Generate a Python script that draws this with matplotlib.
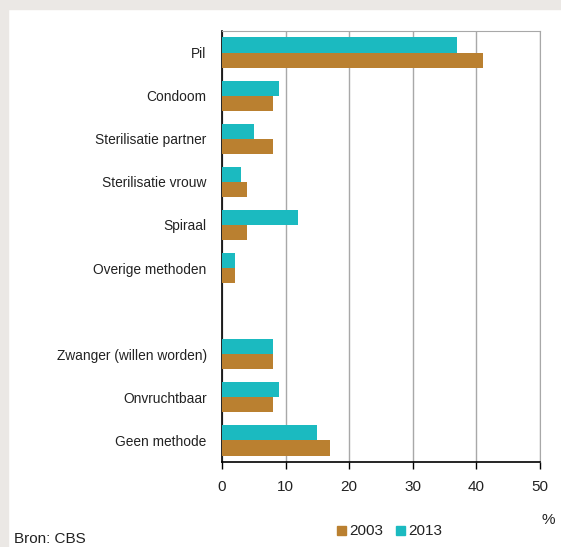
import numpy as np
import matplotlib.pyplot as plt
from matplotlib.patches import Rectangle

plt.rcParams['font.family'] = ['Liberation Sans', 'DejaVu Sans']

# data
categories = ['Pil', 'Condoom', 'Sterilisatie partner', 'Sterilisatie vrouw',
              'Spiraal', 'Overige methoden', '',
              'Zwanger (willen worden)', 'Onvruchtbaar', 'Geen methode']
values_2003 = [41, 8, 8, 4, 4, 2, np.nan, 8, 8, 17]
values_2013 = [37, 9, 5, 3, 12, 2, np.nan, 8, 9, 15]
x_ticks = [0, 10, 20, 30, 40, 50]

col_2003 = '#ba8030'
col_2013 = '#1bbac0'
txt_col = '#222222'

W, H = 561, 547
fig = plt.figure(figsize=(W / 100, H / 100), dpi=100)
fig.patch.set_facecolor('white')

# light gray frame at top and left
fig.patches.append(Rectangle((0, 1 - 9 / H), 1, 9 / H, transform=fig.transFigure,
                             color='#ebe8e5', zorder=0))
fig.patches.append(Rectangle((0, 0), 8 / W, 1, transform=fig.transFigure,
                             color='#ebe8e5', zorder=0))

ax = fig.add_axes([222 / W, 1 - 462 / H, (540 - 222) / W, (462 - 31) / H])

y = np.arange(len(categories))
h = 0.35
ax.barh(y - h / 2, values_2013, height=h, color=col_2013, zorder=3)
ax.barh(y + h / 2, values_2003, height=h, color=col_2003, zorder=3)

ax.set_ylim(len(categories) - 0.5, -0.5)
ax.set_xlim(0, 50)
ax.set_yticks(y)
ax.set_yticklabels(categories, fontsize=9.9, color=txt_col)
ax.tick_params(axis='y', length=0, pad=11)
ax.set_xticks(x_ticks)
ax.set_xticklabels([str(t) for t in x_ticks], fontsize=11, color=txt_col)
ax.tick_params(axis='x', direction='out', length=5, width=1, color='black', pad=8)

ax.grid(axis='x', color='#a8a8a8', lw=1, zorder=1)
for s in ['top', 'right']:
    ax.spines[s].set_color('#a8a8a8')
for s in ['left', 'bottom']:
    ax.spines[s].set_color('black')
    ax.spines[s].set_linewidth(1.2)

# legend and notes
fig.text(548 / W, 1 - 520 / H, '%', fontsize=11, color=txt_col, ha='center', va='center')
fig.text(14 / W, 1 - 539 / H, 'Bron: CBS', fontsize=11, color=txt_col, ha='left', va='center')
for x0, c, lab in [(337, col_2003, '2003'), (396, col_2013, '2013')]:
    fig.patches.append(Rectangle((x0 / W, 1 - 535 / H), 9 / W, 9 / H,
                                 transform=fig.transFigure, color=c))
    fig.text((x0 + 12) / W, 1 - 531 / H, lab, fontsize=11, color=txt_col,
             ha='left', va='center')

fig.savefig('out.png', dpi=100)
